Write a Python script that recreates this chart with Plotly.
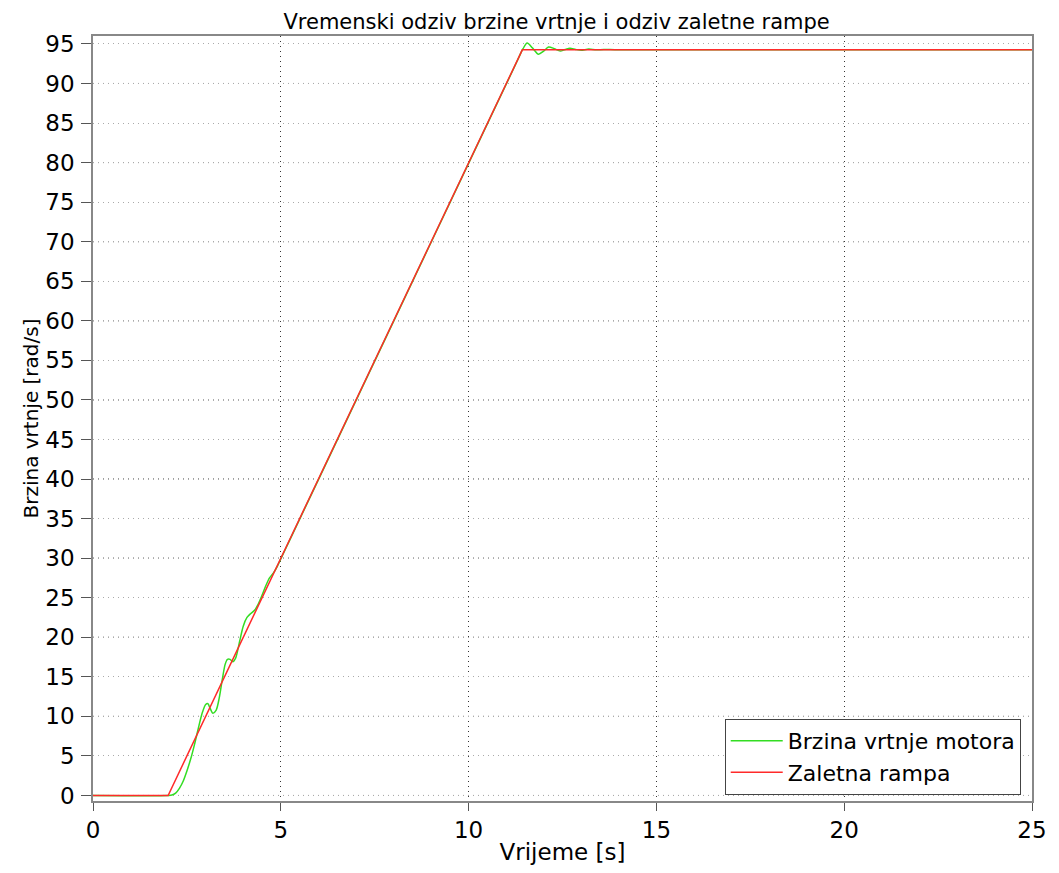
import plotly.graph_objects as go

# Time axis ticks and speed axis ticks
X_TICKS = [0, 5, 10, 15, 20, 25]
Y_TICKS = [0, 5, 10, 15, 20, 25, 30, 35, 40, 45, 50, 55, 60, 65, 70, 75, 80, 85, 90, 95]

# Ramp reference (Zaletna rampa)
ramp_t = [0, 2.0, 11.43, 25]
ramp_w = [0, 0, 94.25, 94.25]

# Motor speed response (Brzina vrtnje motora)
motor_t = [0, 2.0, 2.1, 2.2, 2.3, 2.4, 2.5, 2.6, 2.7, 2.8, 2.9, 3.0, 3.06, 3.12, 3.19,
           3.28, 3.36, 3.44, 3.52, 3.58, 3.65, 3.72, 3.8, 3.9, 4.0, 4.1, 4.2, 4.3,
           4.4, 4.5, 4.6, 4.7, 4.8, 4.9, 5.0, 5.2, 6.0, 8.0, 10.0, 11.3, 11.45,
           11.56, 11.7, 11.86, 12.0, 12.13, 12.28, 12.44, 12.57, 12.7, 12.85, 13.0,
           13.2, 13.4, 13.6, 14.0, 25]
motor_w = [0, 0, 0.05, 0.3, 0.9, 1.8, 3.1, 4.6, 6.4, 8.4, 10.3, 11.5, 11.6, 11.0, 10.4,
           10.8, 12.3, 14.6, 16.6, 17.2, 17.2, 16.9, 17.4, 19.4, 21.4, 22.5, 23.0, 23.4,
           24.2, 25.3, 26.5, 27.5, 28.1, 28.9, 29.9, 31.9, 39.9, 59.9, 79.9, 92.9, 94.4,
           95.1, 94.5, 93.7, 94.1, 94.6, 94.4, 94.1, 94.3, 94.45, 94.3, 94.2,
           94.35, 94.25, 94.3, 94.25, 94.25]

GREEN = "#33dd22"
RED = "#ff2a2a"
FONT = "DejaVu Sans"
DOTS = "1px,4px"

fig = go.Figure()
fig.add_trace(go.Scatter(x=motor_t, y=motor_w, mode="lines", name="Brzina vrtnje motora",
                         line=dict(color=GREEN, width=1.5, shape="spline", smoothing=0.8)))
fig.add_trace(go.Scatter(x=ramp_t, y=ramp_w, mode="lines", name="Zaletna rampa",
                         line=dict(color=RED, width=1.5)))

# darker dotted grid at every 10 on the y axis
shapes = []
for v in Y_TICKS:
    if v % 10 == 0:
        shapes.append(dict(type="line", xref="paper", x0=0, x1=1, yref="y", y0=v, y1=v,
                           line=dict(color="#333333", width=1, dash=DOTS), layer="below"))

# page body has an 8px margin: figure is sized/positioned to compensate
fig.update_layout(
    width=1051, height=865,
    margin=dict(l=85, r=24, t=28, b=70),
    paper_bgcolor="white", plot_bgcolor="white",
    font=dict(family=FONT, size=23, color="black"),
    title=dict(text="Vremenski odziv brzine vrtnje i odziv zaletne rampe",
               x=0.522, xanchor="center", y=0.984, yanchor="middle",
               font=dict(family=FONT, size=21, color="black")),
    showlegend=True,
    legend=dict(x=0.988, y=0.008, xanchor="right", yanchor="bottom",
                bgcolor="white", bordercolor="#444444", borderwidth=1,
                font=dict(family=FONT, size=22, color="black"),
                itemwidth=52, tracegroupgap=0),
    shapes=shapes,
    xaxis=dict(range=[0, 25], tickvals=X_TICKS, ticks="outside", ticklen=8,
               tickcolor="#555555", showline=True, linecolor="#888888", linewidth=1.5,
               mirror=True, showgrid=True, gridcolor="#333333", griddash=DOTS,
               gridwidth=1, zeroline=False,
               title=dict(text="Vrijeme [s]", standoff=2, font=dict(size=23)),
               tickfont=dict(size=23)),
    yaxis=dict(range=[-0.7, 96], tickvals=Y_TICKS, ticks="outside", ticklen=10,
               ticklabelstandoff=2,
               tickcolor="#555555", showline=True, linecolor="#888888", linewidth=1.5,
               mirror=True, showgrid=True, gridcolor="#aaaaaa", griddash=DOTS,
               gridwidth=1, zeroline=False,
               title=dict(text="Brzina vrtnje [rad/s]", standoff=1, font=dict(size=20)),
               tickfont=dict(size=23)),
)

fig.write_html("out.html")
